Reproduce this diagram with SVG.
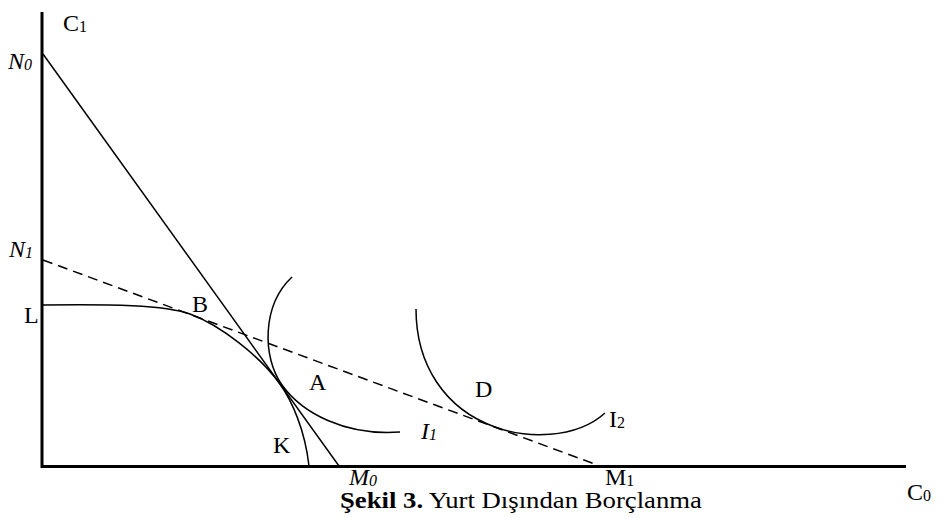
<svg xmlns="http://www.w3.org/2000/svg" width="943" height="518" viewBox="0 0 943 518">
<style>
.it{font-style:italic}
.sub{font-size:16px}
.ln{fill:none;stroke:#000;stroke-width:1.5}
.ax{fill:none;stroke:#000;stroke-width:3}
.dash{stroke-dasharray:10,6}
</style>
<rect width="943" height="518" fill="#fff"/>
<g id="axes">
<line class="ax" x1="42" y1="12" x2="42" y2="468"/>
<line class="ax" x1="41" y1="466.5" x2="906" y2="466.5"/>
</g>
<g id="connectors">
<line class="ln" x1="43" y1="54" x2="339" y2="466"/>
<line class="ln dash" x1="43" y1="260" x2="600" y2="466"/>
</g>
<g id="curve-L">
<path class="ln" d="M43,305 C110,304 165,305 190,314 C220,325 260,356 280,384 C292,401 305,430 309,466"/>
</g>
<g id="curve-I1">
<path class="ln" d="M292,277 C262,305 262,357 282,385 C302,413 345,436 400,432"/>
</g>
<g id="curve-I2">
<path class="ln" d="M416,309 C416,365 445,409 495,427 C525,438 575,440 605,413"/>
</g>
<g id="labels" font-family="Liberation Serif, Tinos, Times New Roman, serif" font-size="24" fill="#000">
<text x="63" y="31">C<tspan class="sub" dy="1">1</tspan></text>
<text class="it" x="8" y="69">N<tspan class="sub" dy="1">0</tspan></text>
<text class="it" x="9" y="257">N<tspan class="sub" dy="1">1</tspan></text>
<text x="24" y="323">L</text>
<text x="192" y="312">B</text>
<text x="309" y="390">A</text>
<text x="273" y="453">K</text>
<text x="475" y="397">D</text>
<text x="609" y="427">I<tspan class="sub" dy="1">2</tspan></text>
<text class="it" x="421" y="439">I<tspan class="sub" dy="1">1</tspan></text>
<text class="it" x="349" y="485">M<tspan class="sub" dy="1">0</tspan></text>
<text x="605" y="485">M<tspan class="sub" dy="1">1</tspan></text>
<text x="907" y="500">C<tspan class="sub" dy="1">0</tspan></text>
<text x="340" y="508" textLength="362" lengthAdjust="spacingAndGlyphs"><tspan font-weight="bold">Şekil 3.</tspan> Yurt Dışından Borçlanma</text>
</g>
</svg>
